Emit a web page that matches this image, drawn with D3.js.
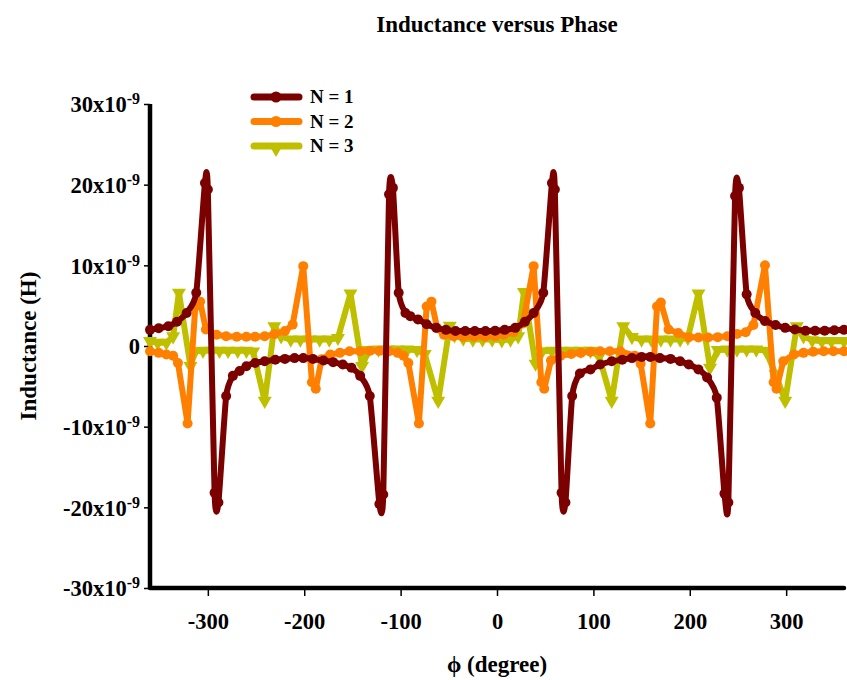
<!DOCTYPE html>
<html>
<head>
<meta charset="utf-8">
<script src="https://cdn.jsdelivr.net/npm/d3@7"></script>
<style>
  body { margin: 0; background: #fff; }
  svg text { font-family: "Liberation Serif", "Times New Roman", serif; font-weight: bold; fill: #000; }
</style>
</head>
<body>
<div class="chart"></div>
<script>
// values in units of 1e-9 H, phase in degree
var phiN1 = [-360, -351, -341, -332, -322, -312, -303, -300, -293, -289, -281, -274, -267, -260, -251, -241, -230, -220, -210, -201, -191, -180, -170, -160, -151, -142, -132, -122, -118, -112, -108, -102, -95, -90, -82, -73, -63, -53, -43, -33, -23, -12, -2, 8, 19, 29, 38, 48, 57, 60, 67, 71, 78, 86, 97, 107, 119, 130, 140, 150, 159, 169, 180, 190, 199, 209, 218, 228, 236, 240, 247, 251, 259, 268, 278, 289, 299, 309, 320, 330, 340, 350, 360];
var valN1 = [2.0, 2.2, 2.45, 3.0, 4.1, 6.6, 20.2, 19.4, -18.2, -19.4, -6.2, -3.7, -3.1, -2.5, -2.1, -1.9, -1.7, -1.6, -1.5, -1.5, -1.6, -1.8, -2.0, -2.3, -2.7, -3.7, -6.2, -19.6, -18.4, 18.8, 19.6, 6.6, 4.1, 3.7, 3.3, 2.7, 2.25, 2.0, 1.85, 1.85, 1.85, 1.85, 1.9, 2.0, 2.25, 3.0, 4.1, 6.6, 20.2, 19.4, -18.2, -19.4, -6.2, -3.4, -2.9, -2.3, -1.9, -1.7, -1.5, -1.35, -1.35, -1.5, -1.6, -1.9, -2.3, -2.9, -3.9, -6.4, -18.3, -19.4, 18.6, 19.6, 6.4, 4.1, 3.1, 2.6, 2.25, 2.05, 1.9, 1.9, 1.9, 1.95, 2.0];

var phiN2 = [-360, -351, -343, -336, -331, -321, -313, -308, -302, -291, -281, -270, -260, -251, -241, -231, -220, -212, -201, -192, -188, -182, -173, -163, -153, -142, -132, -122, -112, -103, -97, -92, -81, -73, -68, -62, -55, -45, -35, -24, -13, -2, 7, 17, 27, 38, 46, 49, 56, 66, 77, 87, 97, 107, 117, 128, 143, 149, 159, 166, 170, 178, 188, 199, 209, 219, 229, 239, 249, 258, 266, 278, 287, 290, 297, 308, 318, 328, 339, 349, 360];
var valN2 = [-0.65, -0.85, -1.05, -1.2, -2.1, -9.6, 4.9, 5.5, 2.05, 1.4, 1.2, 1.15, 1.15, 1.15, 1.2, 1.45, 1.85, 2.65, 9.9, -4.5, -5.3, -1.65, -1.05, -0.85, -0.65, -0.65, -0.6, -0.6, -0.65, -0.85, -1.2, -2.1, -9.6, 4.9, 5.5, 2.2, 1.4, 1.2, 1.15, 1.15, 1.15, 1.2, 1.4, 1.7, 2.8, 9.9, -4.5, -5.3, -1.8, -1.2, -1.0, -0.85, -0.7, -0.65, -0.65, -0.65, -1.2, -2.2, -9.6, 4.9, 5.4, 2.05, 1.6, 1.1, 1.05, 1.05, 1.1, 1.2, 1.5, 1.7, 2.6, 10.0, -4.5, -5.3, -1.9, -1.05, -0.85, -0.7, -0.65, -0.65, -0.65];

var phiN3 = [-360, -352, -343, -336, -330, -318, -313, -305, -296, -288, -279, -269, -260, -253, -241, -231, -224, -214, -204, -194, -184, -174, -165, -152, -140, -133, -123, -113, -103, -93, -83, -75, -61, -49, -44, -35, -25, -15, -5, 5, 14, 22, 28, 40, 47, 57, 67, 77, 87, 97, 106, 119, 131, 140, 150, 160, 170, 180, 190, 198, 209, 221, 229, 239, 249, 259, 269, 279, 289, 299, 311, 318, 327, 337, 347, 360];
var valN3 = [0.6, 0.4, 0.4, 1.2, 6.6, -2.5, -0.65, -0.6, -0.6, -0.6, -0.6, -0.6, -0.6, -0.7, -6.8, 2.45, 1.2, 0.8, 0.8, 0.8, 0.8, 0.8, 1.0, 6.5, -2.5, -0.5, -0.45, -0.45, -0.45, -0.45, -0.5, -1.0, -6.8, 2.5, 1.3, 0.9, 0.8, 0.8, 0.8, 0.7, 0.8, 1.2, 6.7, -2.2, -0.65, -0.6, -0.6, -0.6, -0.6, -0.6, -1.3, -6.8, 2.45, 1.1, 0.8, 0.8, 0.8, 0.8, 0.8, 1.0, 6.5, -2.7, -0.5, -0.45, -0.45, -0.45, -0.45, -0.6, -3.5, -6.8, 2.45, 1.2, 0.7, 0.6, 0.6, 0.6];

var seriesNames = ['N = 1', 'N = 2', 'N = 3'];
var seriesColors = ['#7b0000', '#ff8000', '#bfbf00'];
var xTicks = [-300, -200, -100, 0, 100, 200, 300];
var yTicks = [-30, -20, -10, 0, 10, 20, 30];

var chartWidth = 847,
    chartHeight = 680,
    plotLeft = 150,
    plotRight = 844,
    plotTop = 104,
    plotBottom = 588,
    lineWidth = 6,
    dotRadius = 5;

function pairs(xs, ys) {
  return xs.map(function(x, i) { return {x: x, y: ys[i]}; });
}

var series = [
  {name: seriesNames[0], color: seriesColors[0], marker: 'circle', smooth: true, points: pairs(phiN1, valN1)},
  {name: seriesNames[1], color: seriesColors[1], marker: 'circle', smooth: false, points: pairs(phiN2, valN2)},
  {name: seriesNames[2], color: seriesColors[2], marker: 'triangle', smooth: false, points: pairs(phiN3, valN3)}
];

var x = d3.scaleLinear().domain([-360, 360]).range([plotLeft, plotRight]);
var y = d3.scaleLinear().domain([-30, 30]).range([plotBottom, plotTop]);

var svg = d3.select('.chart').append('svg')
  .attr('width', chartWidth)
  .attr('height', chartHeight);

svg.append('text')
  .attr('x', 497).attr('y', 32)
  .attr('text-anchor', 'middle')
  .style('font-size', '23px')
  .text('Inductance versus Phase');

// axes
var xAxis = svg.append('g')
  .attr('transform', 'translate(0,' + plotBottom + ')')
  .call(d3.axisBottom(x).tickValues(xTicks).tickSize(8).tickPadding(17)
    .tickFormat(function(d) { return String(d); }));
var yAxis = svg.append('g')
  .attr('transform', 'translate(' + plotLeft + ',0)')
  .call(d3.axisLeft(y).tickValues(yTicks).tickSize(6).tickPadding(10).tickFormat(''));

[xAxis, yAxis].forEach(function(g) {
  g.select('.domain').remove();
  g.selectAll('.tick line').attr('stroke', '#000').attr('stroke-width', 1.5);
});
xAxis.selectAll('.tick text').style('font-size', '22.5px').attr('fill', '#000');

yAxis.selectAll('.tick').each(function(d) {
  var t = d3.select(this).append('text')
    .attr('x', -10).attr('dy', '0.35em')
    .attr('text-anchor', 'end')
    .style('font-size', '22.5px');
  if (d === 0) { t.text('0'); return; }
  t.append('tspan').text(d + 'x10');
  t.append('tspan').attr('dy', '-0.5em').style('font-size', '16px').text('-9');
});

svg.append('line')
  .attr('x1', plotLeft).attr('x2', plotLeft).attr('y1', plotTop).attr('y2', plotBottom)
  .attr('stroke', '#000').attr('stroke-width', 4.5);
svg.append('line')
  .attr('x1', plotLeft).attr('x2', plotRight).attr('y1', plotBottom).attr('y2', plotBottom)
  .attr('stroke', '#000').attr('stroke-width', 4.5).attr('stroke-linecap', 'round');

svg.append('text')
  .attr('transform', 'translate(36,' + ((plotTop + plotBottom) / 2) + ') rotate(-90)')
  .attr('text-anchor', 'middle')
  .style('font-size', '23px')
  .text('Inductance (H)');

svg.append('text')
  .attr('x', 497).attr('y', 672)
  .attr('text-anchor', 'middle')
  .style('font-size', '23px')
  .text('\u03d5 (degree)');

// series, drawn so that N = 1 ends on top
var triangle = d3.symbol().type(d3.symbolTriangle).size(85);

function drawMarkers(g, s, pts) {
  if (s.marker === 'circle') {
    g.selectAll('circle').data(pts).enter().append('circle')
      .attr('cx', function(d) { return x(d.x); })
      .attr('cy', function(d) { return y(d.y); })
      .attr('r', dotRadius)
      .attr('fill', s.color);
  } else {
    g.selectAll('path.mk').data(pts).enter().append('path')
      .attr('class', 'mk')
      .attr('d', triangle)
      .attr('transform', function(d) { return 'translate(' + x(d.x) + ',' + y(d.y) + ') rotate(180)'; })
      .attr('fill', s.color);
  }
}

var plot = svg.append('g').attr('class', 'series');
series.slice().reverse().forEach(function(s) {
  var line = d3.line()
    .x(function(d) { return x(d.x); })
    .y(function(d) { return y(d.y); })
    .curve(s.smooth ? d3.curveCardinal.tension(0.45) : d3.curveLinear);
  var g = plot.append('g');
  g.append('path')
    .attr('d', line(s.points))
    .attr('fill', 'none')
    .attr('stroke', s.color)
    .attr('stroke-width', lineWidth)
    .attr('stroke-linejoin', 'round');
  drawMarkers(g, s, s.points);
});

// legend
var legend = svg.append('g').attr('class', 'legend');
series.forEach(function(s, i) {
  var ly = 97 + i * 24.5;
  var g = legend.append('g');
  g.append('line')
    .attr('x1', 254).attr('x2', 299).attr('y1', ly).attr('y2', ly)
    .attr('stroke', s.color).attr('stroke-width', lineWidth + 1).attr('stroke-linecap', 'round');
  if (s.marker === 'circle') {
    g.append('circle').attr('cx', 276).attr('cy', ly).attr('r', dotRadius + 0.5).attr('fill', s.color);
  } else {
    g.append('path').attr('d', triangle).attr('transform', 'translate(276,' + (ly + 3) + ') rotate(180)').attr('fill', s.color);
  }
  g.append('text')
    .attr('x', 310).attr('y', ly + 6)
    .style('font-size', '19px')
    .text(s.name);
});
</script>
</body>
</html>
